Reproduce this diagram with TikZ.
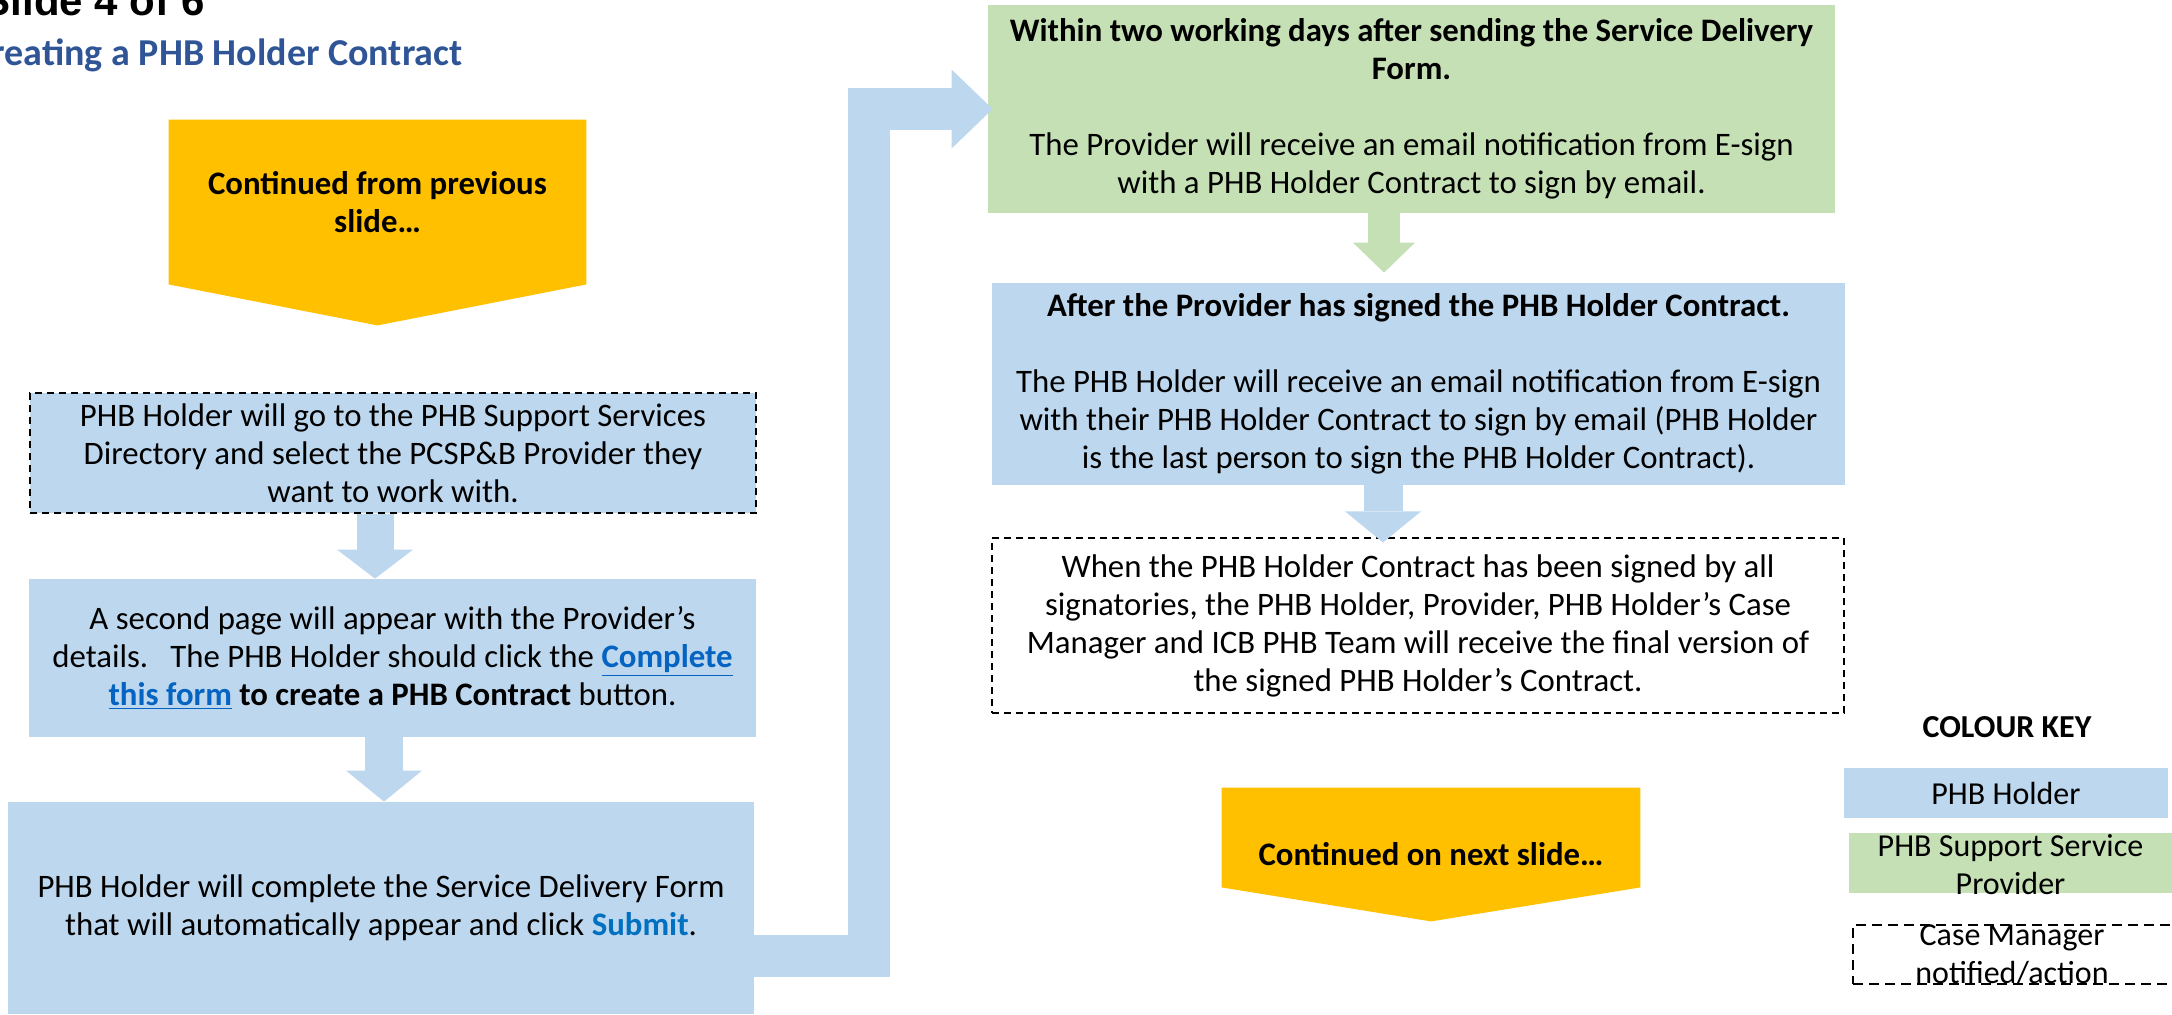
\documentclass[tikz,border=0pt]{standalone}
\usepackage{fontspec}
\setmainfont{Carlito}
\newfontfamily\slidefont{Liberation Sans}
\usetikzlibrary{arrows.meta}
\usetikzlibrary{backgrounds}

\definecolor{holderblue}{RGB}{189,215,238}
\definecolor{providergreen}{RGB}{197,224,180}
\definecolor{contyellow}{RGB}{255,192,0}
\definecolor{titleblue}{RGB}{47,85,151}
\definecolor{linkblue}{RGB}{5,99,193}
\definecolor{submitblue}{RGB}{0,112,192}

\begin{document}
\begin{tikzpicture}[x=0.5pt, y=-0.5pt,
	every node/.style={inner sep=0pt, align=center, font=\fontsize{16.4pt}{19pt}\selectfont},
	holder/.style={fill=holderblue},
	provider/.style={fill=providergreen},
	manager/.style={draw=black, line width=0.6pt, dash pattern=on 3.5pt off 2.5pt},
	cont/.style={font=\fontsize{16.4pt}{19pt}\selectfont\bfseries},
	keyfont/.style={font=\fontsize{16pt}{19pt}\selectfont},
	flow/.style={draw=#1}]
	\useasboundingbox (0,0) rectangle (2172,1014);

	% heading
	\node[anchor=base east, font=\slidefont\bfseries\fontsize{21pt}{25pt}\selectfont] (slideno) at (205,15) {Slide 4 of 6};
	\node[anchor=base east, text=titleblue, font=\bfseries\fontsize{19pt}{22pt}\selectfont] (title) at (463,65) {Creating a PHB Holder Contract};

	% continued from previous slide
	\node[cont, minimum width=208.5pt, minimum height=82pt] (prev) at (377.5,202) {Continued from previous\\slide…};
	\begin{scope}[on background layer]
		\fill[contyellow] (prev.north west) -- (prev.north east) -- (prev.south east) -- ([yshift=-20.5pt]prev.south) -- (prev.south west) -- cycle;
	\end{scope}

	% left column
	\node[holder, manager, minimum width=363pt, minimum height=60pt] (select) at (393,453)
		{PHB Holder will go to the PHB Support Services\\Directory and select the PCSP\&B Provider they\\want to work with.};
	\node[holder, minimum width=363.5pt, minimum height=79pt] (second) at (392.5,658)
		{A second page will appear with the Provider’s\\details.\ \ \ The PHB Holder should click the \textcolor{linkblue}{\textbf{\underline{Complete}}}\\\textcolor{linkblue}{\textbf{\underline{this form}}} \textbf{to create a PHB Contract} button.};
	\node[holder, minimum width=373pt, minimum height=106pt] (submit) at (381,908)
		{PHB Holder will complete the Service Delivery Form\\that will automatically appear and click \textcolor{submitblue}{\textbf{Submit}}.};

	% right column
	\node[provider, minimum width=423.5pt, minimum height=104pt] (sdf) at (1411.5,109)
		{\textbf{Within two working days after sending the Service Delivery}\\\textbf{Form.}\\[19pt]The Provider will receive an email notification from E-sign\\with a PHB Holder Contract to sign by email.};
	\node[holder, minimum width=426.5pt, minimum height=101pt] (signed) at (1418.5,384)
		{\textbf{After the Provider has signed the PHB Holder Contract.}\\[19pt]The PHB Holder will receive an email notification from E-sign\\with their PHB Holder Contract to sign by email (PHB Holder\\is the last person to sign the PHB Holder Contract).};
	\node[manager, minimum width=426pt, minimum height=87.5pt] (final) at (1418,625.5)
		{When the PHB Holder Contract has been signed by all\\signatories, the PHB Holder, Provider, PHB Holder’s Case\\Manager and ICB PHB Team will receive the final version of\\the signed PHB Holder’s Contract.};

	% continued on next slide
	\node[cont, minimum width=209pt, minimum height=66.5pt] (next) at (1431,854.5) {Continued on next slide…};
	\begin{scope}[on background layer]
		\fill[contyellow] (next.north west) -- (next.north east) -- ([yshift=17pt]next.south east) -- (next.south) -- ([yshift=17pt]next.south west) -- cycle;
	\end{scope}

	% block arrows
	\draw[flow=holderblue, line width=18.5pt, -{Triangle[width=38pt, length=14.5pt, line width=0pt]}]
		([xshift=-9pt]select.south) -- ([xshift=-8.75pt]second.north);
	\draw[flow=holderblue, line width=19pt, -{Triangle[width=38pt, length=15.5pt, line width=0pt]}]
		([xshift=-4.25pt]second.south) -- ([xshift=1.5pt]submit.north);
	\draw[flow=holderblue, line width=21pt, -{Triangle[width=39.5pt, length=20.5pt, line width=0pt]}]
		([yshift=-24pt]submit.east) -- ++(57.25pt,0) |- ([xshift=2.5pt]sdf.west);
	\draw[flow=providergreen, line width=16pt, -{Triangle[width=31pt, length=15pt, line width=0pt]}]
		([xshift=-13.75pt]sdf.south) -- ([xshift=-17.25pt, yshift=5pt]signed.north);
	\draw[flow=holderblue, line width=19.5pt, -{Triangle[width=38pt, length=15.5pt, line width=0pt]}]
		([xshift=-17.75pt]signed.south) -- ([xshift=-17.5pt, yshift=-2.5pt]final.north);

	% colour key
	\node[font=\bfseries\fontsize{16pt}{19pt}\selectfont] (keytitle) at (2007,727) {COLOUR KEY};
	\node[holder, keyfont, minimum width=162pt, minimum height=25pt] (holderkey) at (2006,793) {PHB Holder};
	\node[provider, minimum width=161.5pt, minimum height=30pt] (providerkey) at (2010.5,863) {};
	\node[keyfont] (providertext) at ([yshift=-0.75pt]providerkey.center) {PHB Support Service\\Provider};
	\node[manager, line width=0.9pt, dash pattern=on 5pt off 3pt, minimum width=168.5pt, minimum height=29.5pt] (casekey) at (2021.5,954.5) {};
	\node[keyfont] (casetext) at ([xshift=-4.75pt]casekey.center) {Case Manager\\notified/action};
\end{tikzpicture}
\end{document}
